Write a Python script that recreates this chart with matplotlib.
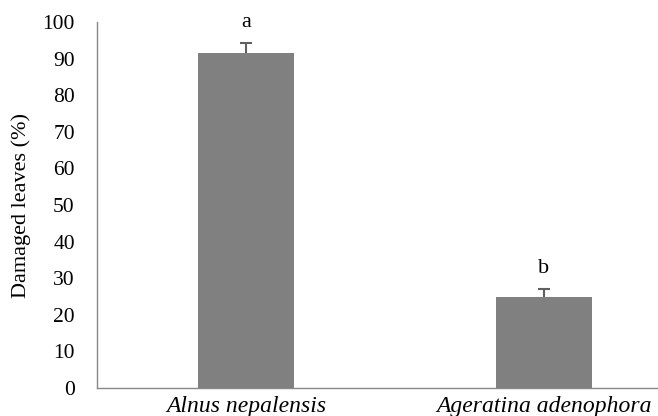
import numpy as np
import matplotlib.pyplot as plt

species = ['Alnus nepalensis', 'Ageratina adenophora']
damaged = [91.5, 24.8]
errors = [2.7, 2.2]
letters = ['a', 'b']

plt.rcParams['font.family'] = ['Liberation Serif', 'DejaVu Serif']

fig = plt.figure(figsize=(6.58, 4.16), dpi=100)
# axis runs past the right edge of the figure
ax = fig.add_axes([97 / 658, 28 / 416, 596 / 658, 366 / 416])

x = np.arange(len(species))
# error bars sit behind the bars so only the upper whisker shows
ax.errorbar(x, damaged, yerr=errors, fmt='none', ecolor='#606060',
            elinewidth=1.5, capsize=4, capthick=1.5, zorder=1)
ax.bar(x, damaged, width=0.32, color='#808080', zorder=2)

tops = [d + e + 3.0 for d, e in zip(damaged, errors)]
for xi, t, lab in zip(x, tops, letters):
    ax.text(xi, t, lab, ha='center', va='bottom', fontsize=16)

ax.set_xlim(-0.5, 1.5)
ax.set_ylim(0, 100)
ax.set_yticks(np.arange(0, 101, 10))
ax.set_xticks(x)
ax.set_xticklabels(species, fontstyle='italic', fontsize=17)
ax.tick_params(axis='y', labelsize=15.5, length=0, pad=16)
ax.tick_params(axis='x', length=0, pad=6)
ax.set_ylabel('Damaged leaves (%)', fontsize=16, labelpad=8)

for side in ['top', 'right']:
    ax.spines[side].set_visible(False)
for side in ['left', 'bottom']:
    ax.spines[side].set_color('#888888')
    ax.spines[side].set_linewidth(1.0)

fig.savefig('out.png', dpi=100)
